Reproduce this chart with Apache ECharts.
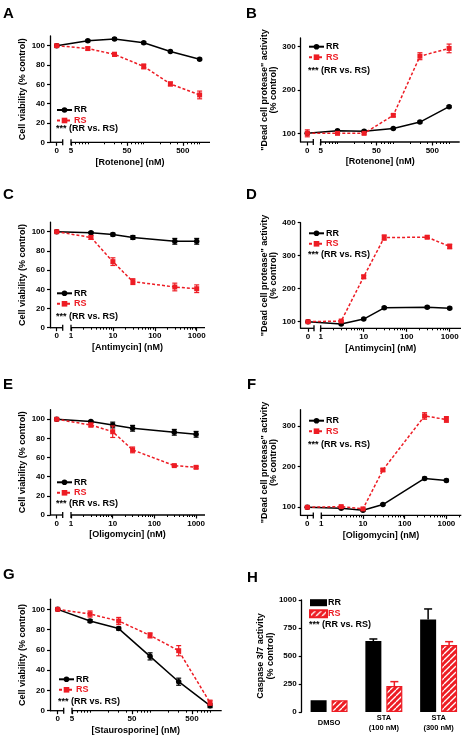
<!DOCTYPE html>
<html><head><meta charset="utf-8">
<script src="https://cdn.jsdelivr.net/npm/echarts@6/dist/echarts.min.js"></script>
<style>html,body{margin:0;padding:0;background:#fff}#c{width:466px;height:741px}</style>
</head><body><div id="c"></div>
<script>
// ================= DATA =================
const concRotenone = [0, 10, 30, 100, 300, 1000];
const concAntimycin = [0, 3, 10, 30, 300, 1000];
const concOligomycin = [0, 3, 10, 30, 300, 1000];
const concStaurosporine = [0, 10, 30, 100, 300, 1000];

// A: viability, rotenone
const viabRotRR = [100, 105, 107, 103, 94, 86];
const viabRotRRErr = [1, 1, 1, 1, 1, 1];
const viabRotRS = [100, 97, 91, 78.5, 60.4, 49];
const viabRotRSErr = [1, 1.5, 2, 2.5, 2, 4];
// B: dead cell protease, rotenone
const protRotRR = [100, 106, 105, 111, 126, 161.5];
const protRotRRErr = [0, 2, 2, 2, 2, 2];
const protRotRS = [100, 100, 100, 141.5, 278, 296];
const protRotRSErr = [8, 2, 2, 3, 8, 10];
// C: viability, antimycin
const viabAntRR = [100, 99, 97, 94, 90, 90];
const viabAntRRErr = [0, 1, 1.5, 2, 3, 3];
const viabAntRS = [100, 94, 68.8, 48, 42.4, 40.6];
const viabAntRSErr = [0, 2, 4, 3, 4, 4];
// D: dead cell protease, antimycin
const protAntRR = [100, 93, 108, 142, 144, 141];
const protAntRRErr = [0, 2, 2, 3, 3, 3];
const protAntRS = [100, 102, 236, 355, 356, 328];
const protAntRSErr = [0, 2, 5, 8, 4, 7];
// E: viability, oligomycin
const viabOliRR = [100, 97.6, 94, 90.6, 86.4, 84.3];
const viabOliRRErr = [0, 1, 3, 3, 3, 3];
const viabOliRS = [100, 94, 87, 68, 51.6, 49.8];
const viabOliRSErr = [0, 2, 6, 3, 1, 1];
// F: dead cell protease, oligomycin
const protOliRR = [100, 97.5, 92.6, 106.6, 171, 166];
const protOliRRErr = [0, 2, 2, 2, 3, 3];
const protOliRS = [100, 101.6, 96, 191.8, 324.6, 316];
const protOliRSErr = [0, 2, 2, 3, 8, 7];
// G: viability, staurosporine
const viabStaRR = [100, 88.5, 81, 53.6, 28.6, 5];
const viabStaRRErr = [0, 1.5, 1.5, 3.5, 3.5, 2];
const viabStaRS = [100, 95.4, 88.5, 74.3, 59.2, 7.9];
const viabStaRSErr = [0, 3, 3.5, 2.5, 5, 2.5];
// H: caspase 3/7 activity
const caspCategories = ['DMSO', 'STA\n(100 nM)', 'STA\n(300 nM)'];
const caspRR = [105, 634, 827];
const caspRRErr = [0, 18, 93];
const caspRS = [105, 232, 598];
const caspRSErr = [0, 39, 30];

// tick labels
const xTicks5 = [0, 5, 50, 500];
const xTicks1 = [0, 1, 10, 100, 1000];
const yTicksViab = [0, 20, 40, 60, 80, 100];
const yTicksProtB = [100, 200, 300];
const yTicksProtD = [100, 200, 300, 400];
const yTicksProtF = [100, 200, 300];
const yTicksCasp = [0, 250, 500, 750, 1000];

// ================= STYLE / LAYOUT =================
const RED = '#ed1c24';
const FF = '"Liberation Sans", Arial, Helvetica, sans-serif';
const LABEL = {fontSize: 8, fontWeight: 'bold', color: '#000', fontFamily: FF};
const TITLE = {fontSize: 9, fontWeight: 'bold', color: '#000', fontFamily: FF};
const LEG = {fontSize: 9, fontWeight: 'bold', color: '#000', fontFamily: FF, lineHeight: 10, padding: [0, 0, 0, -3]};
const VIAB = 'Cell viability (% control)';
const PROT = '"Dead cell protease" activity\n(% control)';

const layouts = {
  A: {left: 50, right: 210, top: 36, bottom: 142.3, yMin: 0, yMax: 110, zeroX: 56.7, logStart: 5, logStartX: 71, decade: 55.9, yNameGap: 20, legX: 56, legY: 110, starY: 129, label: [3, 6]},
  B: {left: 300.7, right: 459.7, top: 38, bottom: 142, yMin: 80, yMax: 320, zeroX: 307.3, logStart: 5, logStartX: 320.7, decade: 55.8, yNameGap: 19, legX: 308, legY: 46.7, starY: 71, label: [246, 6]},
  C: {left: 50, right: 205, top: 222.1, bottom: 327.7, yMin: 0, yMax: 110, zeroX: 56.7, logStart: 1, logStartX: 71, decade: 41.9, yNameGap: 20, legX: 56, legY: 293.3, starY: 316.7, label: [3, 187]},
  D: {left: 300.7, right: 461, top: 222.7, bottom: 328.3, yMin: 80, yMax: 400, zeroX: 308, logStart: 1, logStartX: 320.7, decade: 43, yNameGap: 21, legX: 308, legY: 233.3, starY: 255, label: [246, 187]},
  E: {left: 50, right: 205, top: 409.7, bottom: 515, yMin: 0, yMax: 110, zeroX: 56.7, logStart: 1, logStartX: 71, decade: 41.7, yNameGap: 20, legX: 56, legY: 482.3, starY: 504, label: [3, 377]},
  F: {left: 300.7, right: 461.3, top: 409.7, bottom: 515.4, yMin: 80, yMax: 340, zeroX: 307.3, logStart: 1, logStartX: 321.3, decade: 41.7, yNameGap: 20, legX: 308, legY: 420.7, starY: 444.3, label: [247, 377]},
  G: {left: 50, right: 221.7, top: 599.2, bottom: 710.7, yMin: 0, yMax: 110, zeroX: 57.7, logStart: 5, logStartX: 72, decade: 60, yNameGap: 20, legX: 58, legY: 679.3, starY: 701.7, label: [3, 567]}
};
const layoutH = {left: 301.7, top: 600, width: 168, bottom: 712, legX: 309, legY: 602.7, starY: 624.3, label: [247, 570]};

const linePanels = [
  {key: 'A', conc: concRotenone, rr: viabRotRR, rrErr: viabRotRRErr, rs: viabRotRS, rsErr: viabRotRSErr, xTicks: xTicks5, yTicks: yTicksViab, xTitle: '[Rotenone] (nM)', yTitle: VIAB},
  {key: 'B', conc: concRotenone, rr: protRotRR, rrErr: protRotRRErr, rs: protRotRS, rsErr: protRotRSErr, xTicks: xTicks5, yTicks: yTicksProtB, xTitle: '[Rotenone] (nM)', yTitle: PROT},
  {key: 'C', conc: concAntimycin, rr: viabAntRR, rrErr: viabAntRRErr, rs: viabAntRS, rsErr: viabAntRSErr, xTicks: xTicks1, yTicks: yTicksViab, xTitle: '[Antimycin] (nM)', yTitle: VIAB},
  {key: 'D', conc: concAntimycin, rr: protAntRR, rrErr: protAntRRErr, rs: protAntRS, rsErr: protAntRSErr, xTicks: xTicks1, yTicks: yTicksProtD, xTitle: '[Antimycin] (nM)', yTitle: PROT},
  {key: 'E', conc: concOligomycin, rr: viabOliRR, rrErr: viabOliRRErr, rs: viabOliRS, rsErr: viabOliRSErr, xTicks: xTicks1, yTicks: yTicksViab, xTitle: '[Oligomycin] (nM)', yTitle: VIAB},
  {key: 'F', conc: concOligomycin, rr: protOliRR, rrErr: protOliRRErr, rs: protOliRS, rsErr: protOliRSErr, xTicks: xTicks1, yTicks: yTicksProtF, xTitle: '[Oligomycin] (nM)', yTitle: PROT},
  {key: 'G', conc: concStaurosporine, rr: viabStaRR, rrErr: viabStaRRErr, rs: viabStaRS, rsErr: viabStaRSErr, xTicks: xTicks5, yTicks: yTicksViab, xTitle: '[Staurosporine] (nM)', yTitle: VIAB}
];

function logAt(L, px) { return L.logStart * Math.pow(10, (px - L.logStartX) / L.decade); }

function errRender(color, cap) {
  return function (params, api) {
    const x = api.value(0), y = api.value(1), e = api.value(2);
    const p1 = api.coord([x, y + e]), p2 = api.coord([x, y - e]);
    const st = {stroke: color, lineWidth: 1.2};
    return {type: 'group', children: [
      {type: 'line', shape: {x1: p1[0], y1: p1[1], x2: p2[0], y2: p2[1]}, style: st},
      {type: 'line', shape: {x1: p1[0] - cap, y1: p1[1], x2: p1[0] + cap, y2: p1[1]}, style: st},
      {type: 'line', shape: {x1: p2[0] - cap, y1: p2[1], x2: p2[0] + cap, y2: p2[1]}, style: st}
    ]};
  };
}
function barErrRender(color, dx, cap) {
  return function (params, api) {
    const i = api.value(0), v = api.value(1), e = api.value(2);
    const b = api.coord([i, v]), t = api.coord([i, v + e]);
    const x = b[0] + dx;
    const st = {stroke: color, lineWidth: 1.5};
    return {type: 'group', children: [
      {type: 'line', shape: {x1: x, y1: b[1], x2: x, y2: t[1]}, style: st},
      {type: 'line', shape: {x1: x - cap, y1: t[1], x2: x + cap, y2: t[1]}, style: st}
    ]};
  };
}

// hatch pattern "////": red with thin white diagonal stripes
function makeHatch() {
  const s = 6, cv = document.createElement('canvas');
  cv.width = s; cv.height = s;
  const ctx = cv.getContext('2d');
  ctx.fillStyle = RED; ctx.fillRect(0, 0, s, s);
  ctx.strokeStyle = '#fff'; ctx.lineWidth = 1.3;
  [[-s, 0], [0, 0], [s, 0]].forEach(function (o) {
    ctx.beginPath(); ctx.moveTo(o[0], s); ctx.lineTo(o[0] + s, 0); ctx.stroke();
  });
  return cv;
}

const option = {animation: false, backgroundColor: '#fff', grid: [], xAxis: [], yAxis: [], series: [], legend: [], graphic: []};
const AXW = 1.3;
function txt(x, y, text, font, fill, va) {
  return {type: 'text', x: x, y: y, silent: true, style: {text: text, font: font, fill: fill || '#000', verticalAlign: va || 'middle'}};
}
function seg(x1, y1, x2, y2) {
  return {type: 'line', silent: true, shape: {x1: x1, y1: y1, x2: x2, y2: y2}, style: {stroke: '#000', lineWidth: AXW}};
}

linePanels.forEach(function (p) {
  const L = layouts[p.key];
  const gi = option.grid.length;
  const rect = {left: L.left, top: L.top, width: L.right - L.left, height: L.bottom - L.top};
  option.grid.push(Object.assign({}, rect), Object.assign({}, rect));
  const xmin = logAt(L, L.left), xmax = logAt(L, L.right), zeroPos = logAt(L, L.zeroX);
  const toAxis = function (c) { return c === 0 ? zeroPos : c; };
  const majors = p.xTicks.map(toAxis);
  const minors = [];
  for (let e = 0; e <= 4; e++) for (let n = 1; n <= 9; n++) {
    const v = n * Math.pow(10, e);
    if (v > L.logStart && v <= xmax && p.xTicks.indexOf(v) < 0) minors.push(v);
  }
  const xi = option.xAxis.length, yi = option.yAxis.length;
  option.xAxis.push({
    type: 'log', gridIndex: gi, min: xmin, max: xmax,
    axisLine: {show: false}, splitLine: {show: false}, minorTick: {show: false},
    axisTick: {show: true, length: 3.5, customValues: majors, lineStyle: {color: '#000', width: 1.2}},
    axisLabel: Object.assign({customValues: majors, margin: 4.5,
      formatter: function (v) { return Math.abs(v - zeroPos) < zeroPos * 1e-6 ? '0' : String(Math.round(v)); }}, LABEL),
    name: p.xTitle, nameLocation: 'middle', nameGap: 15.5, nameTextStyle: Object.assign({}, TITLE)
  });
  option.xAxis.push({
    type: 'log', gridIndex: gi + 1, min: xmin, max: xmax,
    axisLine: {show: false}, splitLine: {show: false}, axisLabel: {show: false},
    axisTick: {show: true, length: 2, customValues: minors, lineStyle: {color: '#000', width: 1}}
  });
  option.yAxis.push({
    type: 'value', gridIndex: gi, min: L.yMin, max: L.yMax,
    axisLine: {show: true, lineStyle: {color: '#000', width: AXW}},
    axisTick: {show: true, length: 3, customValues: p.yTicks, lineStyle: {color: '#000', width: 1.2}},
    axisLabel: Object.assign({customValues: p.yTicks, margin: 5}, LABEL),
    splitLine: {show: false},
    name: p.yTitle, nameLocation: 'middle', nameRotate: 90, nameGap: L.yNameGap,
    nameTextStyle: Object.assign({}, TITLE, {lineHeight: 9.5})
  });
  option.yAxis.push({type: 'value', gridIndex: gi + 1, min: L.yMin, max: L.yMax, show: false});

  option.series.push({
    type: 'custom', xAxisIndex: xi, yAxisIndex: yi, renderItem: errRender('#000', 2.5), encode: {x: 0, y: 1},
    data: p.conc.map(function (c, i) { return [toAxis(c), p.rr[i], p.rrErr[i]]; }), z: 2
  });
  option.series.push({
    type: 'line', name: 'RR', xAxisIndex: xi, yAxisIndex: yi,
    data: p.conc.map(function (c, i) { return [toAxis(c), p.rr[i]]; }),
    symbol: 'circle', symbolSize: 5.5, itemStyle: {color: '#000'}, lineStyle: {color: '#000', width: 1.5}, z: 3
  });
  option.series.push({
    type: 'custom', xAxisIndex: xi, yAxisIndex: yi, renderItem: errRender(RED, 2.5), encode: {x: 0, y: 1},
    data: p.conc.map(function (c, i) { return [toAxis(c), p.rs[i], p.rsErr[i]]; }), z: 4
  });
  option.series.push({
    type: 'line', name: 'RS', xAxisIndex: xi, yAxisIndex: yi,
    data: p.conc.map(function (c, i) { return [toAxis(c), p.rs[i]]; }),
    symbol: 'rect', symbolSize: 5, itemStyle: {color: RED}, lineStyle: {color: RED, width: 1.5, type: [3, 2]}, z: 5
  });

  option.legend.push({
    left: L.legX, top: L.legY - 5, orient: 'vertical', itemWidth: 15, itemHeight: 7, itemGap: 0.5, padding: 0,
    selectedMode: false, textStyle: Object.assign({}, LEG),
    data: [{name: 'RR'}, {name: 'RS', textStyle: {color: RED}}]
  });
  // broken x axis line
  const zEnd = L.zeroX + 6;
  option.graphic.push(seg(L.left, L.bottom, zEnd, L.bottom));
  option.graphic.push(seg(L.logStartX, L.bottom, L.right, L.bottom));
  option.graphic.push(seg(zEnd, L.bottom - 3, zEnd, L.bottom + 3));
  option.graphic.push(seg(L.logStartX, L.bottom - 3, L.logStartX, L.bottom + 3));
  option.graphic.push(txt(L.legX, L.starY, '*** (RR vs. RS)', 'bold 9px ' + FF));
  option.graphic.push(txt(L.label[0], L.label[1], p.key, 'bold 15px ' + FF, '#000', 'top'));
});

// ---- Panel H ----
(function () {
  const L = layoutH;
  const gi = option.grid.length;
  option.grid.push({left: L.left, top: L.top, width: L.width, height: L.bottom - L.top});
  const xi = option.xAxis.length, yi = option.yAxis.length;
  option.xAxis.push({
    type: 'category', gridIndex: gi, data: caspCategories,
    axisLine: {show: false}, axisTick: {show: false}, splitLine: {show: false},
    axisLabel: {interval: 0, fontSize: 7.5, fontWeight: 'bold', color: '#000', fontFamily: FF, lineHeight: 10, margin: 10.5, verticalAlign: 'middle'}
  });
  option.yAxis.push({
    type: 'value', gridIndex: gi, min: 0, max: 1000,
    axisLine: {show: true, lineStyle: {color: '#000', width: AXW}},
    axisTick: {show: true, length: 3, customValues: yTicksCasp, lineStyle: {color: '#000', width: 1.2}},
    axisLabel: Object.assign({customValues: yTicksCasp, margin: 5, formatter: function (v) { return String(v); }}, LABEL),
    splitLine: {show: false},
    name: 'Caspase 3/7 activity\n(% control)', nameLocation: 'middle', nameRotate: 90, nameGap: 22,
    nameTextStyle: Object.assign({}, TITLE, {lineHeight: 9.5})
  });
  const hatchFill = {image: makeHatch(), repeat: 'repeat'};
  option.series.push({
    type: 'bar', name: 'RR ', xAxisIndex: xi, yAxisIndex: yi, data: caspRR, barWidth: 16, barGap: '31%',
    itemStyle: {color: '#000'}
  });
  option.series.push({
    type: 'bar', name: 'RS ', xAxisIndex: xi, yAxisIndex: yi, data: caspRS, barWidth: 16, barGap: '31%',
    itemStyle: {color: hatchFill, borderColor: RED, borderWidth: 1.2}
  });
  option.series.push({
    type: 'custom', xAxisIndex: xi, yAxisIndex: yi, renderItem: barErrRender('#000', -10.5, 4), encode: {x: 0, y: 1},
    data: caspRR.map(function (v, i) { return [i, v, caspRRErr[i]]; }).filter(function (d) { return d[2] > 0; })
  });
  option.series.push({
    type: 'custom', xAxisIndex: xi, yAxisIndex: yi, renderItem: barErrRender(RED, 10.5, 4), encode: {x: 0, y: 1},
    data: caspRS.map(function (v, i) { return [i, v, caspRSErr[i]]; }).filter(function (d) { return d[2] > 0; })
  });
  option.legend.push({
    left: L.legX, top: L.legY - 5, orient: 'vertical', icon: 'rect', itemWidth: 17, itemHeight: 7, itemGap: 1, padding: 0,
    selectedMode: false, textStyle: Object.assign({}, LEG, {padding: [0, 0, 0, -4]}), formatter: function (n) { return n.trim(); },
    data: [{name: 'RR '}, {name: 'RS ', textStyle: {color: RED}}]
  });
  option.graphic.push(txt(L.legX, L.starY, '*** (RR vs. RS)', 'bold 9px ' + FF));
  option.graphic.push(txt(L.label[0], L.label[1], 'H', 'bold 15px ' + FF, '#000', 'top'));
})();

const chart = echarts.init(document.getElementById('c'), null, {renderer: 'canvas', width: 466, height: 741});
chart.setOption(option);
</script>
</body></html>
